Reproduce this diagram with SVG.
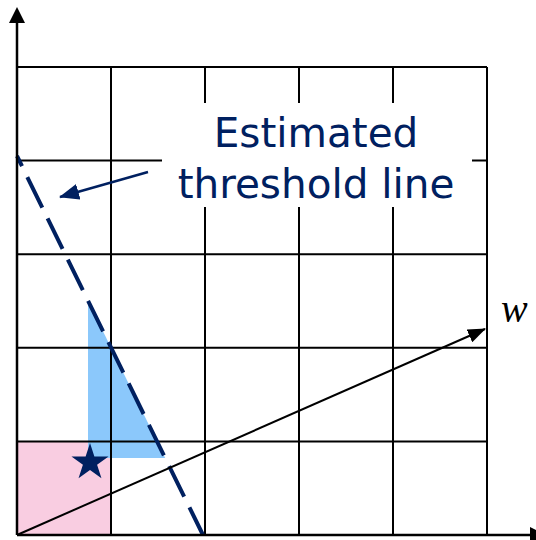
<svg xmlns="http://www.w3.org/2000/svg" width="536" height="540" viewBox="0 0 536 540">
<style>
.grid{stroke:#000;stroke-width:2;fill:none}
.lbl{font-family:"DejaVu Sans",Verdana,sans-serif;font-size:40.5px;fill:#002060;text-anchor:middle}
</style>
<defs>
<marker id="ahBlack" markerUnits="userSpaceOnUse" markerWidth="18" markerHeight="14" refX="17" refY="7" orient="auto"><path d="M0,0 L18,7 L0,14 z" fill="#000"/></marker>
<marker id="ahNavy" markerUnits="userSpaceOnUse" markerWidth="20" markerHeight="16" refX="19" refY="8" orient="auto"><path d="M0,0 L20,8 L0,16 z" fill="#002060"/></marker>
</defs>
<rect width="536" height="540" fill="#fff"/>
<g id="regions">
<rect x="17" y="441.4" width="94" height="93.6" fill="#F9CDE1"/>
<polygon points="88,300.7 165.2,458 88,458" fill="#8BC8FB"/>
</g>
<g id="grid" class="grid">
<path d="M17,67 H487 M17,160.6 H487 M17,254.2 H487 M17,347.8 H487 M17,441.4 H487"/>
<path d="M111,67 V535 M205,67 V535 M299,67 V535 M393,67 V535 M487,67 V535"/>
</g>
<g id="label">
<rect x="162" y="103" width="310" height="104" fill="#fff"/>
<text class="lbl" x="316" y="147">Estimated</text>
<text class="lbl" x="316" y="198">threshold line</text>
</g>
<g id="connectors">
<line x1="17" y1="156" x2="203" y2="535" stroke="#002060" stroke-width="4" stroke-dasharray="34 12" stroke-dashoffset="22.6"/>
<line x1="148" y1="172" x2="60" y2="197" stroke="#002060" stroke-width="2.5" marker-end="url(#ahNavy)"/>
<line x1="17" y1="535" x2="485" y2="329" stroke="#000" stroke-width="2" marker-end="url(#ahBlack)"/>
</g>
<g id="star">
<polygon points="90,443 94.38,456.47 108.55,456.47 97.09,464.8 101.46,478.28 90,469.95 78.54,478.28 82.91,464.8 71.45,456.47 85.62,456.47" fill="#002060"/>
</g>
<g id="axes">
<line x1="17" y1="535" x2="17" y2="22" stroke="#000" stroke-width="2.5"/>
<polygon points="17,7 9,23 25,23" fill="#000"/>
<line x1="17" y1="535" x2="531" y2="535" stroke="#000" stroke-width="2.5"/>
<polygon points="546,535 530,527 530,543" fill="#000"/>
</g>
<g id="w-label">
<text x="501" y="322" font-family="'Liberation Serif',serif" font-style="italic" font-size="40" fill="#000">w</text>
</g>
</svg>
